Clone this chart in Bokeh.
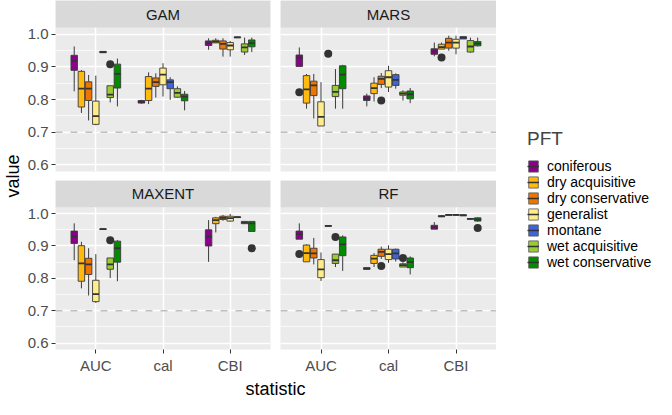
from bokeh.plotting import figure
from bokeh.models import (FactorRange, Range1d, FixedTicker, CategoricalTicker, Grid, LinearAxis,
                          CategoricalAxis, NumeralTickFormatter, BoxAnnotation, Span, Legend,
                          LegendItem, ColumnDataSource, Title)
from bokeh.layouts import row, column
from bokeh.transform import dodge
from bokeh.core.properties import value
from bokeh.embed import file_html
from bokeh.resources import INLINE

# ---------------- data ----------------
STATS = ["AUC", "cal", "CBI"]
PFTS = ["coniferous", "dry acquisitive", "dry conservative", "generalist",
        "montane", "wet acquisitive", "wet conservative"]
PFT_COLORS = ["#8B008B", "#FFB90F", "#EE7600", "#FFEC8B", "#3D64D8", "#9ACD32", "#008B00"]
MODELS = ["GAM", "MARS", "MAXENT", "RF"]
Y_TICKS = [0.6, 0.7, 0.8, 0.9, 1.0]
Y_MINOR = [0.65, 0.75, 0.85, 0.95]
Y_LIMITS = (0.6, 1.0)
REF_LINE = 0.7

# each row: (whisker low, Q1, median, Q3, whisker high), in PFTS order
GAM_AUC = [(0.825, 0.889, 0.918, 0.935, 0.962), (0.759, 0.777, 0.833, 0.886, 0.890),
           (0.736, 0.797, 0.833, 0.854, 0.875), (0.721, 0.724, 0.749, 0.795, 0.873),
           (0.943, 0.943, 0.945, 0.947, 0.947), (0.791, 0.806, 0.815, 0.842, 0.842),
           (0.779, 0.835, 0.878, 0.908, 0.925)]
GAM_CAL = [(0.787, 0.789, 0.793, 0.797, 0.799), (0.786, 0.797, 0.833, 0.870, 0.883),
           (0.806, 0.840, 0.853, 0.866, 0.880), (0.809, 0.845, 0.876, 0.896, 0.911),
           (0.799, 0.833, 0.853, 0.860, 0.868), (0.805, 0.807, 0.820, 0.833, 0.840),
           (0.767, 0.796, 0.809, 0.816, 0.826)]
GAM_CBI = [(0.952, 0.965, 0.972, 0.979, 0.987), (0.973, 0.973, 0.977, 0.981, 0.987),
           (0.931, 0.954, 0.970, 0.979, 0.987), (0.931, 0.952, 0.965, 0.974, 0.979),
           (0.988, 0.989, 0.990, 0.991, 0.992), (0.936, 0.945, 0.959, 0.970, 0.989),
           (0.945, 0.961, 0.972, 0.982, 0.989)]

MARS_AUC = [(0.901, 0.901, 0.928, 0.936, 0.959), (0.772, 0.789, 0.831, 0.873, 0.878),
            (0.742, 0.812, 0.843, 0.856, 0.878), (0.719, 0.719, 0.747, 0.793, 0.853),
            (0.938, 0.939, 0.940, 0.941, 0.942), (0.772, 0.809, 0.823, 0.843, 0.893),
            (0.772, 0.833, 0.876, 0.903, 0.906)]
MARS_CAL = [(0.779, 0.797, 0.804, 0.811, 0.818), (0.794, 0.818, 0.835, 0.850, 0.868),
            (0.835, 0.846, 0.863, 0.871, 0.881), (0.823, 0.838, 0.868, 0.888, 0.903),
            (0.833, 0.843, 0.860, 0.876, 0.880), (0.797, 0.813, 0.818, 0.823, 0.828),
            (0.789, 0.802, 0.816, 0.826, 0.835)]
MARS_CBI = [(0.932, 0.938, 0.947, 0.955, 0.974), (0.954, 0.954, 0.960, 0.969, 0.974),
            (0.949, 0.957, 0.974, 0.987, 0.995), (0.938, 0.957, 0.974, 0.984, 0.995),
            (0.985, 0.985, 0.989, 0.992, 0.992), (0.943, 0.945, 0.962, 0.980, 0.989),
            (0.962, 0.964, 0.971, 0.977, 0.989)]

MAXENT_AUC = [(0.856, 0.908, 0.930, 0.946, 0.970), (0.769, 0.791, 0.846, 0.901, 0.913),
              (0.747, 0.812, 0.843, 0.862, 0.893), (0.724, 0.728, 0.751, 0.794, 0.875),
              (0.950, 0.951, 0.952, 0.953, 0.954), (0.801, 0.828, 0.843, 0.863, 0.863),
              (0.791, 0.850, 0.893, 0.915, 0.918)]
MAXENT_CAL = None
MAXENT_CBI = [(0.851, 0.900, 0.929, 0.950, 0.980), (0.942, 0.969, 0.980, 0.987, 0.990),
              (0.978, 0.982, 0.987, 0.992, 0.996), (0.975, 0.977, 0.986, 0.992, 0.999),
              (0.988, 0.988, 0.989, 0.990, 0.990), (0.969, 0.969, 0.972, 0.976, 0.976),
              (0.945, 0.945, 0.970, 0.976, 0.976)]

RF_AUC = [(0.921, 0.921, 0.937, 0.946, 0.970), (0.851, 0.851, 0.878, 0.903, 0.905),
          (0.843, 0.863, 0.877, 0.893, 0.925), (0.792, 0.802, 0.828, 0.858, 0.880),
          (0.961, 0.961, 0.962, 0.963, 0.963), (0.835, 0.846, 0.856, 0.875, 0.875),
          (0.823, 0.870, 0.905, 0.928, 0.933)]
RF_CAL = [(0.827, 0.828, 0.830, 0.833, 0.834), (0.835, 0.846, 0.861, 0.871, 0.878),
          (0.860, 0.868, 0.882, 0.890, 0.898), (0.848, 0.858, 0.875, 0.890, 0.902),
          (0.852, 0.860, 0.877, 0.890, 0.892), (0.835, 0.835, 0.841, 0.845, 0.850),
          (0.812, 0.833, 0.850, 0.863, 0.868)]
RF_CBI = [(0.952, 0.952, 0.958, 0.964, 0.974), (0.990, 0.991, 0.992, 0.993, 0.995),
          (0.994, 0.995, 0.996, 0.997, 0.998), (0.994, 0.995, 0.996, 0.997, 0.998),
          (0.993, 0.994, 0.995, 0.996, 0.997), (0.982, 0.983, 0.984, 0.985, 0.986),
          (0.975, 0.977, 0.982, 0.987, 0.989)]

# outliers: (statistic, PFT, value)
GAM_OUT = [("AUC", "wet acquisitive", 0.908)]
MARS_OUT = [("AUC", "coniferous", 0.822), ("AUC", "montane", 0.940),
            ("cal", "dry conservative", 0.797), ("CBI", "dry acquisitive", 0.928)]
MAXENT_OUT = [("AUC", "wet acquisitive", 0.918), ("CBI", "wet conservative", 0.893)]
RF_OUT = [("AUC", "coniferous", 0.875), ("AUC", "wet acquisitive", 0.928),
          ("cal", "dry conservative", 0.838), ("cal", "wet acquisitive", 0.863),
          ("CBI", "wet conservative", 0.956)]

PANELS = {
    "GAM": ({"AUC": GAM_AUC, "cal": GAM_CAL, "CBI": GAM_CBI}, GAM_OUT),
    "MARS": ({"AUC": MARS_AUC, "cal": MARS_CAL, "CBI": MARS_CBI}, MARS_OUT),
    "MAXENT": ({"AUC": MAXENT_AUC, "cal": MAXENT_CAL, "CBI": MAXENT_CBI}, MAXENT_OUT),
    "RF": ({"AUC": RF_AUC, "cal": RF_CAL, "CBI": RF_CBI}, RF_OUT),
}

# ---------------- style / layout ----------------
FONT = "Liberation Sans"
PANEL_BG = "#EBEBEB"
STRIP_BG = "#D9D9D9"
LINE_COL = "#3a3a3a"
FRAME_W = 216
PANEL_H = 144
STRIP_H = 27
LEFT_B = 30
GAP = 10
VGAP = 9
BOTTOM_B = 25
TITLE_H = 23
SLOT = 0.75 / 7
BOX_W = SLOT * 0.9

pad = (Y_LIMITS[1] - Y_LIMITS[0]) * 0.05
Y_LO, Y_HI = Y_LIMITS[0] - pad, Y_LIMITS[1] + pad
Y_TOP = Y_HI + (Y_HI - Y_LO) * STRIP_H / PANEL_H


def make_panel(model, left, bottom):
    width = FRAME_W + (LEFT_B + GAP if left else 0)
    height = STRIP_H + PANEL_H + (BOTTOM_B if bottom else VGAP)
    p = figure(width=width, height=height, output_backend="svg", toolbar_location=None,
               x_range=FactorRange(*STATS, range_padding=0.1, range_padding_units="absolute"),
               y_range=Range1d(Y_LO, Y_TOP), x_axis_location=None, y_axis_location=None,
               min_border=0, min_border_left=LEFT_B if left else 0,
               min_border_right=GAP if left else 0,
               min_border_bottom=BOTTOM_B if bottom else VGAP, title=None)
    p.background_fill_color = PANEL_BG
    p.border_fill_color = "white"
    p.outline_line_color = None
    p.center = [c for c in p.center if not isinstance(c, Grid)]
    p.add_layout(Grid(dimension=0, ticker=CategoricalTicker(), grid_line_color="white",
                      grid_line_width=1.5, level="underlay"))
    p.add_layout(Grid(dimension=1, ticker=FixedTicker(ticks=Y_TICKS, minor_ticks=Y_MINOR),
                      grid_line_color="white", grid_line_width=1.5,
                      minor_grid_line_color="white", minor_grid_line_width=0.7,
                      level="underlay"))
    p.add_layout(Span(location=REF_LINE, dimension="width", line_color="#BEBEBE",
                      line_dash="7 8", line_width=1.5, level="underlay"))
    p.add_layout(BoxAnnotation(bottom=Y_HI, fill_color=STRIP_BG, fill_alpha=1,
                               line_color=None, level="glyph"))
    p.text(x=[STATS[1]], y=[(Y_HI + Y_TOP) / 2], text=[model], text_align="center",
           text_baseline="middle", text_font=value(FONT), text_font_size="15px",
           text_color="#1A1A1A", level="overlay")

    if left:
        ax = LinearAxis(ticker=FixedTicker(ticks=Y_TICKS),
                        formatter=NumeralTickFormatter(format="0.0"))
        ax.axis_line_color = None
        ax.major_tick_out = 4
        ax.major_tick_in = 0
        ax.minor_tick_out = 0
        ax.minor_tick_in = 0
        ax.major_tick_line_color = "#333333"
        ax.major_label_text_color = "#4D4D4D"
        ax.major_label_text_font = FONT
        ax.major_label_text_font_size = "15px"
        ax.major_label_standoff = 3
        p.add_layout(ax, "left")
    if bottom:
        bx = CategoricalAxis()
        bx.axis_line_color = None
        bx.major_tick_out = 4
        bx.major_tick_in = 0
        bx.major_tick_line_color = "#333333"
        bx.major_label_text_color = "#4D4D4D"
        bx.major_label_text_font = FONT
        bx.major_label_text_font_size = "15px"
        bx.major_label_standoff = 3
        p.add_layout(bx, "below")

    stats_data, outliers = PANELS[model]
    for i, pft in enumerate(PFTS):
        off = (i - 3) * SLOT
        cols = {"stat": [], "lo": [], "q1": [], "med": [], "q3": [], "hi": []}
        for stat in STATS:
            vals = stats_data[stat]
            if vals is None:
                continue
            lo, q1, med, q3, hi = vals[i]
            cols["stat"].append(stat)
            cols["lo"].append(lo)
            cols["q1"].append(q1)
            cols["med"].append(med)
            cols["q3"].append(q3)
            cols["hi"].append(hi)
        src = ColumnDataSource(cols)
        xs = dodge("stat", off, range=p.x_range)
        p.segment(x0=xs, y0="q3", x1=xs, y1="hi", source=src, line_color=LINE_COL, line_width=1)
        p.segment(x0=xs, y0="lo", x1=xs, y1="q1", source=src, line_color=LINE_COL, line_width=1)
        p.vbar(x=xs, width=BOX_W, bottom="q1", top="q3", source=src,
               fill_color=PFT_COLORS[i], line_color=LINE_COL, line_width=0.9)
        p.segment(x0=dodge("stat", off - BOX_W / 2, range=p.x_range), y0="med",
                  x1=dodge("stat", off + BOX_W / 2, range=p.x_range), y1="med",
                  source=src, line_color="#333333", line_width=1.8)
        o_stats = [o[0] for o in outliers if o[1] == pft]
        o_vals = [o[2] for o in outliers if o[1] == pft]
        if o_vals:
            osrc = ColumnDataSource({"stat": o_stats, "v": o_vals})
            p.scatter(x=xs, y="v", source=osrc, size=8, fill_color="#333333", line_color=None)
    return p


p_gam = make_panel("GAM", True, False)
p_mars = make_panel("MARS", False, False)
p_maxent = make_panel("MAXENT", True, True)
p_rf = make_panel("RF", False, True)

# x-axis title
stat_fig = figure(width=LEFT_B + GAP + 2 * FRAME_W, height=TITLE_H, output_backend="svg",
                  toolbar_location=None, x_axis_location=None, y_axis_location=None,
                  min_border=0, min_border_left=LEFT_B, title=None, outline_line_color=None)
stat_fig.grid.visible = False
stat_fig.add_layout(Title(text="statistic", align="center", text_font=FONT,
                          text_font_size="18px", text_font_style="normal",
                          text_color="black", standoff=0, offset=0), "above")

# y-axis title
panels_h = 2 * (STRIP_H + PANEL_H) + VGAP
value_fig = figure(width=24, height=panels_h, output_backend="svg", toolbar_location=None,
                   x_axis_location=None, y_axis_location=None, min_border=0, title=None,
                   outline_line_color=None)
value_fig.grid.visible = False
value_fig.add_layout(Title(text="value", align="center", text_font=FONT,
                           text_font_size="18px", text_font_style="normal",
                           text_color="black", standoff=0, offset=0), "left")

# legend
nan = float("nan")
leg_fig = figure(width=160, height=panels_h + BOTTOM_B + TITLE_H,
                 output_backend="svg", toolbar_location=None, x_axis_location=None,
                 y_axis_location=None, min_border=0, title=None, outline_line_color=None,
                 x_range=Range1d(0, 1), y_range=Range1d(0, 1))
leg_fig.grid.visible = False
items = []
for pft, col in zip(PFTS, PFT_COLORS):
    q = leg_fig.quad(left=[nan], right=[nan], top=[nan], bottom=[nan], fill_color=col,
                     line_color="#555555", line_width=0.8)
    ln = leg_fig.line(x=[nan], y=[nan], line_color="#333333", line_width=1.5)
    items.append(LegendItem(label=pft, renderers=[q, ln]))
legend = Legend(items=items, location=(31, 129), title="PFT", title_text_font=FONT,
                title_text_font_size="19px", title_text_font_style="normal",
                title_standoff=8, label_text_font=FONT, label_text_font_size="14px",
                label_text_color="black", label_text_line_height=1.0,
                glyph_width=12, glyph_height=14, label_height=14,
                spacing=0, label_standoff=8, padding=0, margin=0,
                border_line_color=None, background_fill_alpha=0)
leg_fig.add_layout(legend, "center")

layout = row(value_fig,
             column(row(p_gam, p_mars), row(p_maxent, p_rf), stat_fig),
             leg_fig)

open("out.html", "w").write(file_html(layout, INLINE))
